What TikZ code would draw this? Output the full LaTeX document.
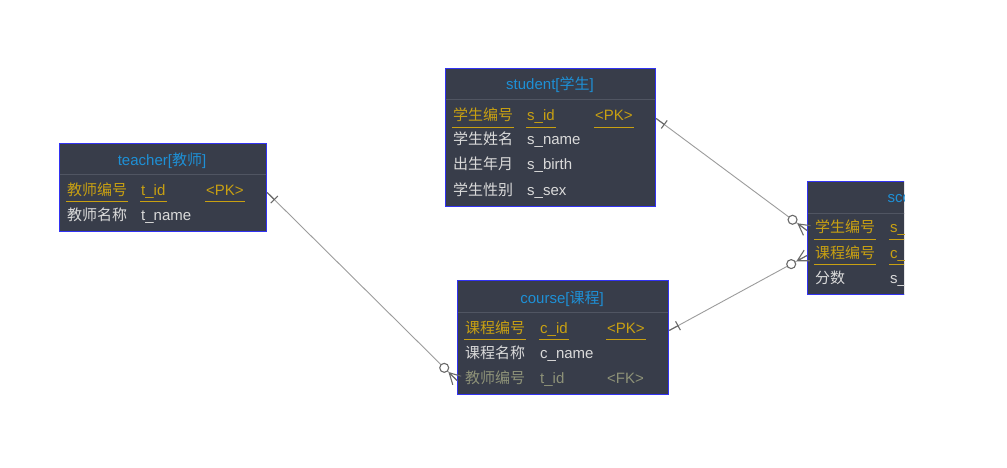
\documentclass[tikz,border=0pt]{standalone}
\usepackage{fontspec}
\setmainfont{Liberation Sans}
\newfontfamily\cjk{Noto Sans CJK SC}
\usetikzlibrary{calc}

\definecolor{tablebg}{HTML}{383D4A}
\definecolor{tableframe}{HTML}{3232F2}
\definecolor{titleblue}{HTML}{1E90D6}
\definecolor{keygold}{HTML}{C8A012}
\definecolor{plaintext}{HTML}{DADADA}
\definecolor{fktext}{HTML}{8E9278}
\definecolor{sepgray}{HTML}{505562}
\definecolor{linkgray}{HTML}{9C9C9C}
\definecolor{markgray}{HTML}{6A6A6A}

\tikzset{
  tablebox/.style={draw=tableframe, fill=tablebg, line width=1.2pt, anchor=north west, inner sep=0pt},
  cell/.style={font=\fontsize{15}{17}\selectfont, anchor=base west, inner xsep=1pt, inner ysep=1.5pt, text height=10pt, text depth=5pt},
  titlecell/.style={cell, anchor=base, text=titleblue},
  plaincell/.style={cell, text=plaintext},
  fkcell/.style={cell, text=fktext},
  keycell/.style={cell, text=keygold, append after command={\pgfextra{\let\keynode\tikzlastnode} (\keynode.south west) edge[draw=keygold, line width=1.2pt] (\keynode.south east)}},
  sepline/.style={draw=sepgray, line width=1pt},
  link/.style={draw=linkgray, line width=0.9pt},
  erend/.style={draw=markgray, line width=1.1pt},
}

\newcommand{\erlink}[2]{%
  \draw[link] (#1) -- (#2);
  \draw[erend] (#1) -- ($(#1)!10pt!(#2)$);
  \draw[erend] ($(#1)!10pt!(#2)!5pt!90:(#2)$) -- ($(#1)!10pt!(#2)!5pt!-90:(#2)$);
  \draw[erend] ($(#2)!11pt!(#1)$) -- ($(#2)!6pt!90:(#1)$)
               ($(#2)!11pt!(#1)$) -- ($(#2)!6pt!-90:(#1)$)
               ($(#2)!11pt!(#1)$) -- (#2);
  \draw[erend, fill=white] ($(#2)!18pt!(#1)$) circle (4.5pt);
}

\begin{document}
\begin{tikzpicture}[x=1pt, y=-1pt]
\useasboundingbox[fill=white] (0,0) rectangle (1007,468);

\node[tablebox, minimum width=207pt, minimum height=88pt] (teacher) at (59,143) {};
\draw[sepline] ([shift={(1pt,-32pt)}]teacher.north west) -- ([shift={(-1pt,-32pt)}]teacher.north east);
\node[titlecell] (teacher-title) at (162,165) {teacher[{\cjk 教师}]};
\node[keycell] (tid-l) at (66,195) {\cjk 教师编号};
\node[keycell] (tid) at (140,195) {t\_id};
\node[keycell] (tid-pk) at (205,195) {<PK>};
\node[plaincell] (tname-l) at (66,220) {\cjk 教师名称};
\node[plaincell] (tname) at (140,220) {t\_name};

\node[tablebox, minimum width=210pt, minimum height=138pt] (student) at (445,68) {};
\draw[sepline] ([shift={(1pt,-32pt)}]student.north west) -- ([shift={(-1pt,-32pt)}]student.north east);
\node[titlecell] (student-title) at (550,90) {student[{\cjk 学生}]};
\node[keycell] (sid-l) at (452,121) {\cjk 学生编号};
\node[keycell] (sid) at (526,121) {s\_id};
\node[keycell] (sid-pk) at (594,121) {<PK>};
\node[plaincell] (sname-l) at (452,145) {\cjk 学生姓名};
\node[plaincell] (sname) at (526,145) {s\_name};
\node[plaincell] (sbirth-l) at (452,170) {\cjk 出生年月};
\node[plaincell] (sbirth) at (526,170) {s\_birth};
\node[plaincell] (ssex-l) at (452,195) {\cjk 学生性别};
\node[plaincell] (ssex) at (526,195) {s\_sex};

\node[tablebox, minimum width=211pt, minimum height=114pt] (course) at (457,280) {};
\draw[sepline] ([shift={(1pt,-32pt)}]course.north west) -- ([shift={(-1pt,-32pt)}]course.north east);
\node[titlecell] (course-title) at (562,303) {course[{\cjk 课程}]};
\node[keycell] (cid-l) at (464,333) {\cjk 课程编号};
\node[keycell] (cid) at (539,333) {c\_id};
\node[keycell] (cid-pk) at (606,333) {<PK>};
\node[plaincell] (cname-l) at (464,358) {\cjk 课程名称};
\node[plaincell] (cname) at (539,358) {c\_name};
\node[fkcell] (ctid-l) at (464,383) {\cjk 教师编号};
\node[fkcell] (ctid) at (539,383) {t\_id};
\node[fkcell] (ctid-fk) at (606,383) {<FK>};

\begin{scope}
\clip (0,0) rectangle (904,468);
\node[tablebox, minimum width=235pt, minimum height=113pt] (score) at (807,181) {};
\draw[sepline] ([shift={(1pt,-32pt)}]score.north west) -- ([shift={(-1pt,-32pt)}]score.north east);
\node[titlecell] (score-title) at (925,203) {score[{\cjk 成绩}]};
\node[keycell] (scsid-l) at (814,233) {\cjk 学生编号};
\node[keycell] (scsid) at (889,233) {s\_id};
\node[keycell] (sccid-l) at (814,258) {\cjk 课程编号};
\node[keycell] (sccid) at (889,258) {c\_id};
\node[plaincell] (scval-l) at (814,283) {\cjk 分数};
\node[plaincell] (scval) at (889,283) {s\_score};
\end{scope}

\coordinate (t2c-a) at (teacher.east |- tid-l);
\coordinate (t2c-b) at (course.west |- ctid-l);
\coordinate (s2sc-a) at (student.east |- sid-l);
\coordinate (s2sc-b) at (score.west |- scsid-l);
\coordinate (c2sc-a) at (course.east |- cid-l);
\coordinate (c2sc-b) at (score.west |- sccid-l);
\erlink{t2c-a}{t2c-b}
\erlink{s2sc-a}{s2sc-b}
\erlink{c2sc-a}{c2sc-b}
\end{tikzpicture}
\end{document}
